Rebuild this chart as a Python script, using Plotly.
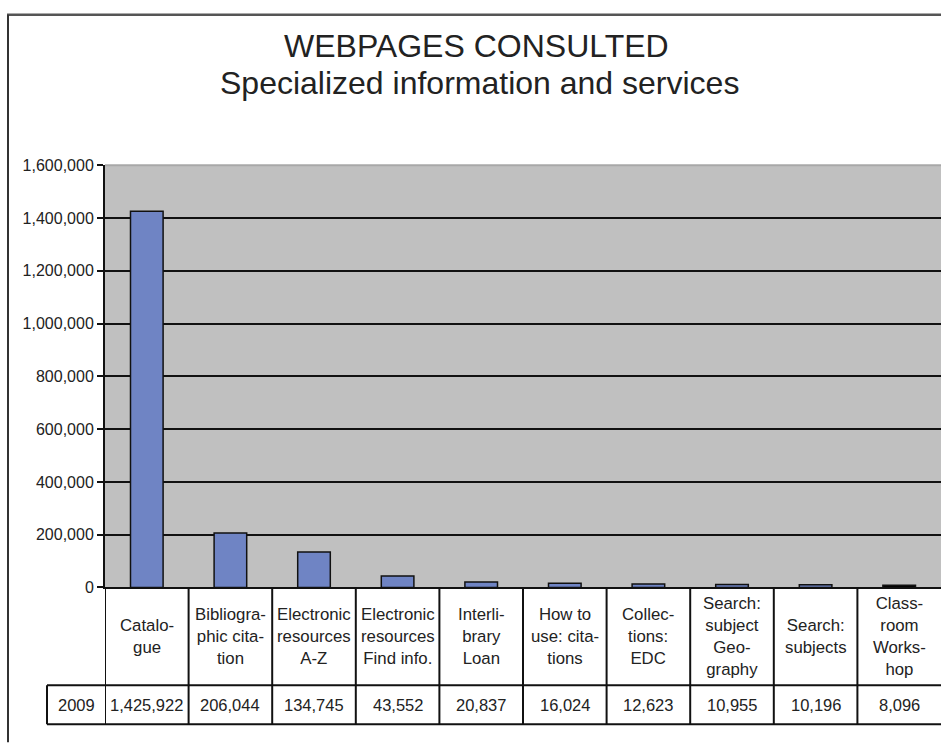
import plotly.graph_objects as go

categories = ["Catalo-<br>gue", "Bibliogra-<br>phic cita-<br>tion", "Electronic<br>resources<br>A-Z",
              "Electronic<br>resources<br>Find info.", "Interli-<br>brary<br>Loan", "How to<br>use: cita-<br>tions",
              "Collec-<br>tions:<br>EDC", "Search:<br>subject<br>Geo-<br>graphy", "Search:<br>subjects",
              "Class-<br>room<br>Works-<br>hop"]
series_name = "2009"
values = [1425922, 206044, 134745, 43552, 20837, 16024, 12623, 10955, 10196, 8096]
y_ticks = [0, 200000, 400000, 600000, 800000, 1000000, 1200000, 1400000, 1600000]
title1 = "WEBPAGES CONSULTED"
title2 = "Specialized information and services"

W, H = 941, 744
FONT = "Liberation Sans, Arial, sans-serif"
TXT = "#222222"

def py(p):
    return 1 - p / H

def px(p):
    return p / W

xs = list(range(len(categories)))
bar_colors = ["#6F84C4"] * (len(values) - 1) + ["#000000"]

fig = go.Figure()
fig.add_trace(go.Bar(x=xs, y=values, width=0.39, marker=dict(color=bar_colors, line=dict(color="#111111", width=1.5)),
                     showlegend=False, hoverinfo="y"))

plot_left, plot_right = 105, 941
plot_top, plot_bottom = 161, 593
row1_bottom, row2_bottom = 693, 733
label_left = 47

shapes = []
# outer frame (top and left)
shapes.append(dict(type="line", xref="paper", yref="paper", x0=px(7), x1=1.01, y0=py(7), y1=py(7),
                   line=dict(color="#555555", width=2.5)))
shapes.append(dict(type="line", xref="paper", yref="paper", x0=px(8), x1=px(8), y0=py(7), y1=-0.01,
                   line=dict(color="#333333", width=2)))
# top edge of plot area lighter
shapes.append(dict(type="line", xref="paper", yref="paper", x0=px(plot_left), x1=1, y0=py(plot_top), y1=py(plot_top),
                   line=dict(color="#A8A8A8", width=2), layer="above"))
# table horizontal lines
for yy in [row1_bottom, row2_bottom]:
    shapes.append(dict(type="line", xref="paper", yref="paper", x0=px(label_left), x1=1, y0=py(yy), y1=py(yy),
                       line=dict(color="#111111", width=2)))
shapes.append(dict(type="line", xref="paper", yref="paper", x0=px(label_left), x1=px(label_left),
                   y0=py(row1_bottom), y1=py(row2_bottom), line=dict(color="#111111", width=2)))
# vertical column boundaries
for i in range(len(categories)):
    shapes.append(dict(type="line", xref="x", yref="paper", x0=i - 0.5, x1=i - 0.5,
                       y0=py(plot_bottom), y1=py(row2_bottom), line=dict(color="#111111", width=2)))

annotations = []
annotations.append(dict(text=title1, x=px(476), y=py(39), xref="paper", yref="paper", showarrow=False,
                        font=dict(family=FONT, size=32, color=TXT), xanchor="center", yanchor="middle"))
annotations.append(dict(text=title2, x=px(479), y=py(77), xref="paper", yref="paper", showarrow=False,
                        font=dict(family=FONT, size=32, color=TXT), xanchor="center", yanchor="middle"))
for i, c in enumerate(categories):
    annotations.append(dict(text=c, x=i, y=py((plot_bottom + row1_bottom) / 2), xref="x", yref="paper",
                            showarrow=False, font=dict(family=FONT, size=16.8, color=TXT),
                            xanchor="center", yanchor="middle", align="center"))
    annotations.append(dict(text=f"{values[i]:,}", x=i, y=py((row1_bottom + row2_bottom) / 2), xref="x",
                            yref="paper", showarrow=False, font=dict(family=FONT, size=16.5, color=TXT),
                            xanchor="center", yanchor="middle"))
annotations.append(dict(text=series_name, x=px((label_left + plot_left) / 2), y=py((row1_bottom + row2_bottom) / 2),
                        xref="paper", yref="paper", showarrow=False, font=dict(family=FONT, size=16.5, color=TXT),
                        xanchor="center", yanchor="middle"))

fig.update_layout(
    width=W, height=H, margin=dict(l=0, r=0, t=0, b=0),
    paper_bgcolor="white", plot_bgcolor="#C0C0C0",
    font=dict(family=FONT, size=16, color=TXT),
    xaxis=dict(domain=[px(plot_left), px(plot_right)], range=[-0.5, len(categories) - 0.5],
               showticklabels=False, ticks="", showgrid=False, zeroline=False,
               showline=True, linecolor="#111111", linewidth=2, fixedrange=True),
    yaxis=dict(domain=[py(plot_bottom), py(plot_top)], range=[0, 1600000], tickvals=y_ticks,
               ticktext=[f"{t:,}" for t in y_ticks], ticks="outside", ticklen=6, tickwidth=2,
               tickcolor="#111111", showgrid=True, gridcolor="#111111", gridwidth=2,
               zeroline=False, showline=True, linecolor="#111111", linewidth=2,
               tickfont=dict(family=FONT, size=16, color=TXT), fixedrange=True),
    shapes=shapes, annotations=annotations, bargap=0.6,
)

fig.write_html("out.html")
